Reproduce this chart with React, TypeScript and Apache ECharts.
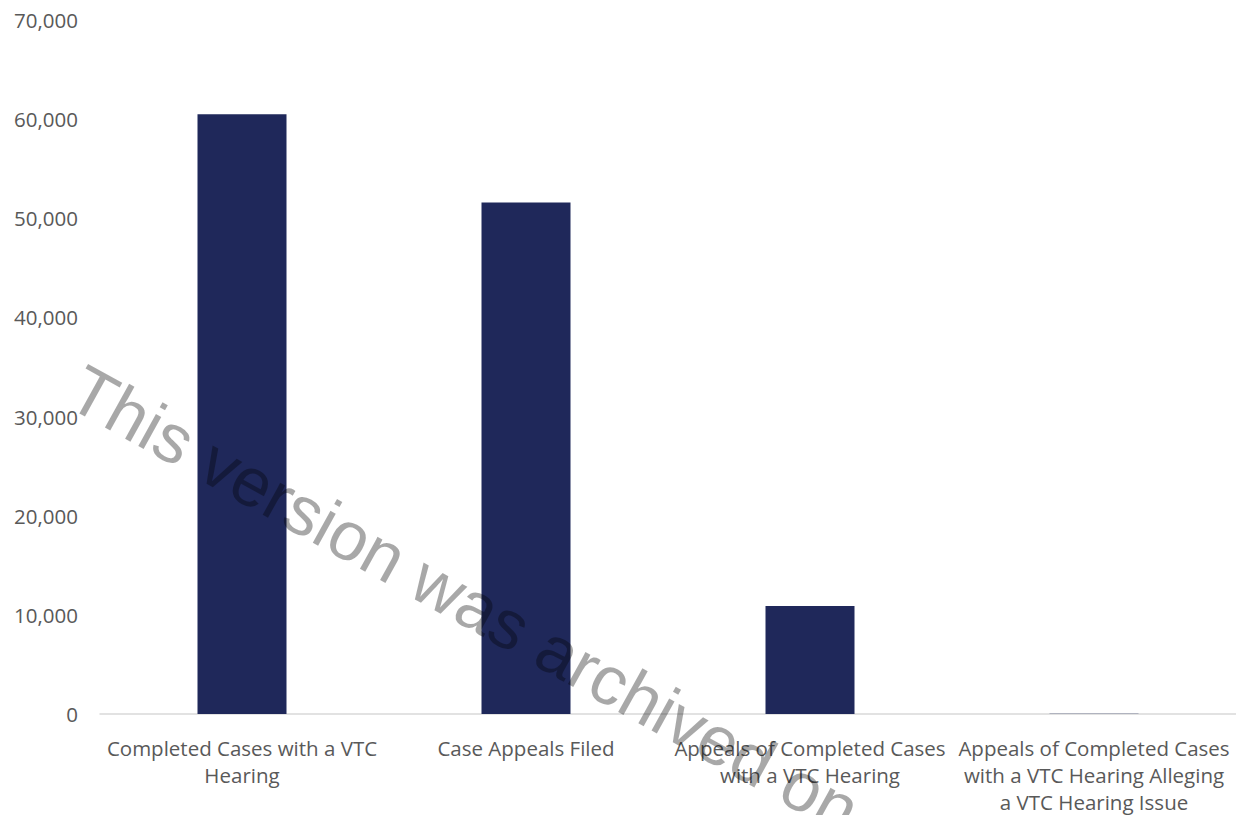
import React, { useEffect, useRef } from "react";
import * as echarts from "echarts";

const categories = [
  "Completed Cases with a VTC\nHearing",
  "Case Appeals Filed",
  "Appeals of Completed Cases\nwith a VTC Hearing",
  "Appeals of Completed Cases\nwith a VTC Hearing Alleging\na VTC Hearing Issue",
];
const values = [60500, 51600, 10900, 30];
const yTicks = { min: 0, max: 70000, interval: 10000 };
const watermark = "This version was archived on";

export default function App() {
  const ref = useRef<HTMLDivElement>(null);
  useEffect(() => {
    if (!ref.current) return;
    const chart = echarts.init(ref.current, undefined, { renderer: "svg" });
    const font = "Open Sans";
    chart.setOption({
      animation: false,
      grid: { left: 100, right: 0, top: 20, bottom: 100, containLabel: false },
      xAxis: {
        type: "category",
        data: categories,
        axisLine: { lineStyle: { color: "#d9d9d9", width: 1.5 } },
        axisTick: { show: false },
        axisLabel: {
          interval: 0,
          color: "#595959",
          fontFamily: font,
          fontSize: 20.5,
          lineHeight: 27,
          margin: 20,
        },
      },
      yAxis: {
        type: "value",
        min: yTicks.min,
        max: yTicks.max,
        interval: yTicks.interval,
        splitLine: { show: false },
        axisLine: { show: false },
        axisTick: { show: false },
        axisLabel: {
          color: "#595959",
          fontFamily: font,
          fontSize: 20.5,
          margin: 22,
          formatter: (v: number) => v.toLocaleString("en-US"),
        },
      },
      series: [
        {
          type: "bar",
          data: values,
          barWidth: 89,
          itemStyle: { color: "#1F285A" },
        },
      ],
      graphic: [
        {
          type: "text",
          x: 92,
          y: 354,
          rotation: (-29 * Math.PI) / 180,
          z: 100,
          silent: true,
          style: {
            text: watermark,
            fill: "rgba(0,0,0,0.34)",
            font: "69px 'Liberation Sans', Arial, sans-serif",
            textAlign: "left",
            textVerticalAlign: "top",
          },
        },
      ],
    });
    return () => chart.dispose();
  }, []);
  return (
    <div
      ref={ref}
      style={{ position: "absolute", left: 0, top: 0, width: 1236, height: 815, background: "#fff" }}
    />
  );
}
